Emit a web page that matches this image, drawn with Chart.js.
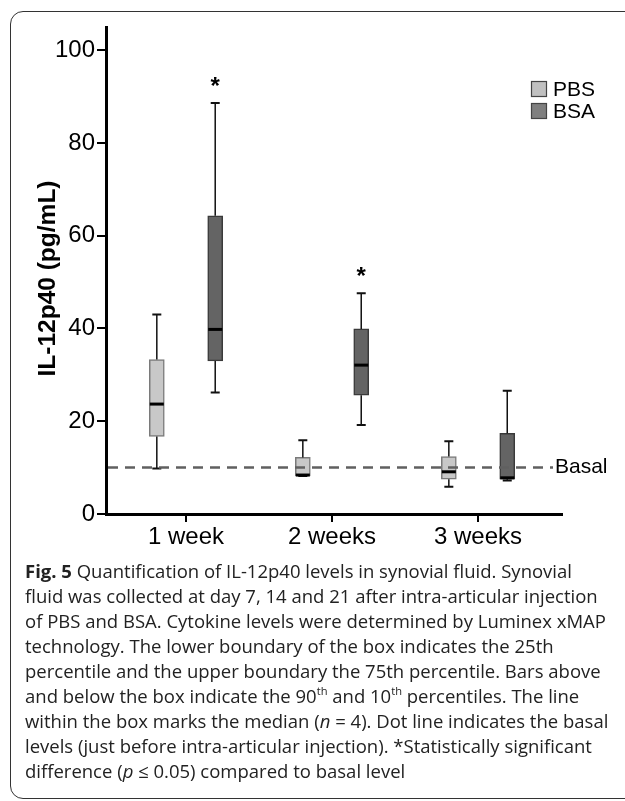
<!DOCTYPE html>
<html>
<head>
<meta charset="utf-8">
<script src="https://cdn.jsdelivr.net/npm/chart.js@4.4.1/dist/chart.umd.min.js"></script>
<style>
  html, body { margin:0; padding:0; background:#fff; }
  body { width:625px; height:801px; overflow:hidden; position:relative; }
  #frame { position:absolute; left:10px; top:11px; width:700px; height:788px; border:1.6px solid #333; border-radius:13px; box-sizing:border-box; }
  #wrap { position:absolute; left:0; top:0; width:625px; height:560px; }
  #cap { position:absolute; left:25px; top:558px; font-family:'Open Sans', 'Noto Sans', sans-serif; font-size:18.5px; line-height:25px; color:#222; white-space:nowrap; }
  #cap sup { font-size:0.6em; line-height:0; position:relative; top:-0.1em; vertical-align:super; }
</style>
</head>
<body>
<div id="frame"></div>
<div id="wrap"><canvas id="c" width="625" height="560"></canvas></div>
<div id="cap">
<b>Fig. 5</b> Quantification of IL-12p40 levels in synovial fluid. Synovial<br>
fluid was collected at day 7, 14 and 21 after intra-articular injection<br>
of PBS and BSA. Cytokine levels were determined by Luminex xMAP<br>
technology. The lower boundary of the box indicates the 25th<br>
percentile and the upper boundary the 75th percentile. Bars above<br>
and below the box indicate the 90<sup>th</sup> and 10<sup>th</sup> percentiles. The line<br>
within the box marks the median (<i>n</i> = 4). Dot line indicates the basal<br>
levels (just before intra-articular injection). *Statistically significant<br>
difference (<i>p</i> ≤ 0.05) compared to basal level
</div>
<script>
const categories = ['1 week', '2 weeks', '3 weeks'];
const yTicks = [0, 20, 40, 60, 80, 100];
const seriesNames = ['PBS', 'BSA'];

const pbsP10    = [9.8, 8.2, 5.9];
const pbsQ1     = [16.7, 8.2, 7.5];
const pbsMedian = [23.7, 8.4, 9.1];
const pbsQ3     = [33.3, 12.2, 12.4];
const pbsP90    = [43.0, 15.9, 15.7];

const bsaP10    = [26.2, 19.2, 7.2];
const bsaQ1     = [33.0, 25.6, 7.5];
const bsaMedian = [39.8, 32.1, 7.8];
const bsaQ3     = [64.3, 39.9, 17.4];
const bsaP90    = [88.6, 47.6, 26.6];

const bsaSignificant = [true, true, false];
const basalLevel = 10;
const basalLabel = 'Basal';
const yTitle = 'IL-12p40 (pg/mL)';

Chart.defaults.font.family = "'Liberation Sans', Arial, sans-serif";
Chart.defaults.color = '#000';

const SHIFT = 0.2;
function boxData(q1, q3, med, lo, hi, shift) {
  return categories.map((c, i) => ({ x: i + shift, y: [q1[i], q3[i]], med: med[i], lo: lo[i], hi: hi[i] }));
}

const boxExtras = {
  id: 'boxExtras',
  afterDatasetsDraw(chart) {
    const ctx = chart.ctx;
    const ys = chart.scales.y;
    const area = chart.chartArea;
    ctx.save();
    chart.data.datasets.forEach((ds, d) => {
      const meta = chart.getDatasetMeta(d);
      meta.data.forEach((el, i) => {
        const r = ds.data[i];
        const x = el.x, half = el.width / 2;
        const yq1 = ys.getPixelForValue(r.y[0]);
        const yq3 = ys.getPixelForValue(r.y[1]);
        const ylo = ys.getPixelForValue(r.lo);
        const yhi = ys.getPixelForValue(r.hi);
        const ymed = ys.getPixelForValue(r.med);
        ctx.strokeStyle = '#111';
        ctx.lineWidth = 1.5;
        ctx.beginPath();
        ctx.moveTo(x, yq3); ctx.lineTo(x, yhi);
        ctx.moveTo(x, yq1); ctx.lineTo(x, ylo);
        ctx.stroke();
        ctx.lineWidth = 2;
        ctx.beginPath();
        ctx.moveTo(x - 4.5, yhi); ctx.lineTo(x + 4.5, yhi);
        ctx.moveTo(x - 4.5, ylo); ctx.lineTo(x + 4.5, ylo);
        ctx.stroke();
        ctx.strokeStyle = '#000';
        ctx.lineWidth = 3;
        ctx.beginPath();
        ctx.moveTo(x - half + 0.5, ymed); ctx.lineTo(x + half - 0.5, ymed);
        ctx.stroke();
        if (d === 1 && bsaSignificant[i]) {
          ctx.fillStyle = '#000';
          ctx.font = "bold 24px 'Liberation Sans', Arial";
          ctx.textAlign = 'center';
          ctx.textBaseline = 'middle';
          ctx.fillText('*', x, yhi - 16);
        }
      });
    });
    // basal dashed line
    const yb = ys.getPixelForValue(basalLevel);
    ctx.strokeStyle = '#606060';
    ctx.lineWidth = 2.5;
    ctx.setLineDash([10, 7]);
    ctx.beginPath();
    ctx.moveTo(area.left + 2, yb);
    ctx.lineTo(area.right - 9, yb);
    ctx.stroke();
    ctx.setLineDash([]);
    ctx.fillStyle = '#000';
    ctx.font = "21px 'Liberation Sans', Arial";
    ctx.textAlign = 'left';
    ctx.textBaseline = 'middle';
    ctx.fillText(basalLabel, area.right - 7, yb);
    // legend
    const legendFill = ['#c0c0c0', '#7f7f7f'];
    seriesNames.forEach((name, k) => {
      const ly = 81 + k * 22;
      ctx.fillStyle = legendFill[k];
      ctx.fillRect(531, ly, 16, 16);
      ctx.strokeStyle = '#444';
      ctx.lineWidth = 1.2;
      ctx.strokeRect(531.5, ly + 0.5, 15, 15);
      ctx.fillStyle = '#000';
      ctx.font = "21px 'Liberation Sans', Arial";
      ctx.fillText(name, 553, ly + 9);
    });
    // y-axis title
    ctx.save();
    ctx.translate(48, (area.top + area.bottom) / 2 + 8);
    ctx.rotate(-Math.PI / 2);
    ctx.font = "bold 24.5px 'Liberation Sans', Arial";
    ctx.textAlign = 'center';
    ctx.textBaseline = 'middle';
    ctx.fillStyle = '#000';
    ctx.fillText(yTitle, 0, 0);
    ctx.restore();
    ctx.restore();
  }
};

new Chart(document.getElementById('c'), {
  type: 'bar',
  data: {
    datasets: [
      { label: seriesNames[0], data: boxData(pbsQ1, pbsQ3, pbsMedian, pbsP10, pbsP90, -SHIFT),
        backgroundColor: '#c8c8c8', borderColor: '#7a7a7a', borderWidth: 1.5, borderSkipped: false,
        barThickness: 15, grouped: false },
      { label: seriesNames[1], data: boxData(bsaQ1, bsaQ3, bsaMedian, bsaP10, bsaP90, SHIFT),
        backgroundColor: '#646464', borderColor: '#3a3a3a', borderWidth: 1.5, borderSkipped: false,
        barThickness: 15, grouped: false }
    ]
  },
  options: {
    responsive: false,
    animation: false,
    layout: { padding: { top: 27, right: 63, left: 0, bottom: 0 } },
    plugins: { legend: { display: false }, tooltip: { enabled: false } },
    scales: {
      x: {
        type: 'linear', min: -0.548, max: 2.575, offset: false, bounds: 'data',
        afterBuildTicks: s => { s.ticks = categories.map((c, i) => ({ value: i })); },
        afterFit: s => { s.height = 46; },
        grid: { display: true, offset: false, drawOnChartArea: false, drawTicks: true, tickLength: 8, color: '#000', lineWidth: 2 },
        border: { display: true, color: '#000', width: 3 },
        ticks: { font: { size: 24 }, color: '#000', padding: 1, autoSkip: false, maxRotation: 0,
          callback: v => categories[v] !== undefined ? categories[v] : '' }
      },
      y: {
        type: 'linear', min: 0, max: 105, bounds: 'data',
        afterBuildTicks: s => { s.ticks = yTicks.map(v => ({ value: v })); },
        afterFit: s => { s.width = 106; },
        grid: { display: true, drawOnChartArea: false, drawTicks: true, tickLength: 9, color: '#000', lineWidth: 2 },
        border: { display: true, color: '#000', width: 3 },
        ticks: { font: { size: 24 }, color: '#000', padding: 2 },
        title: { display: false, text: yTitle }
      }
    }
  },
  plugins: [boxExtras]
});
</script>
</body>
</html>
